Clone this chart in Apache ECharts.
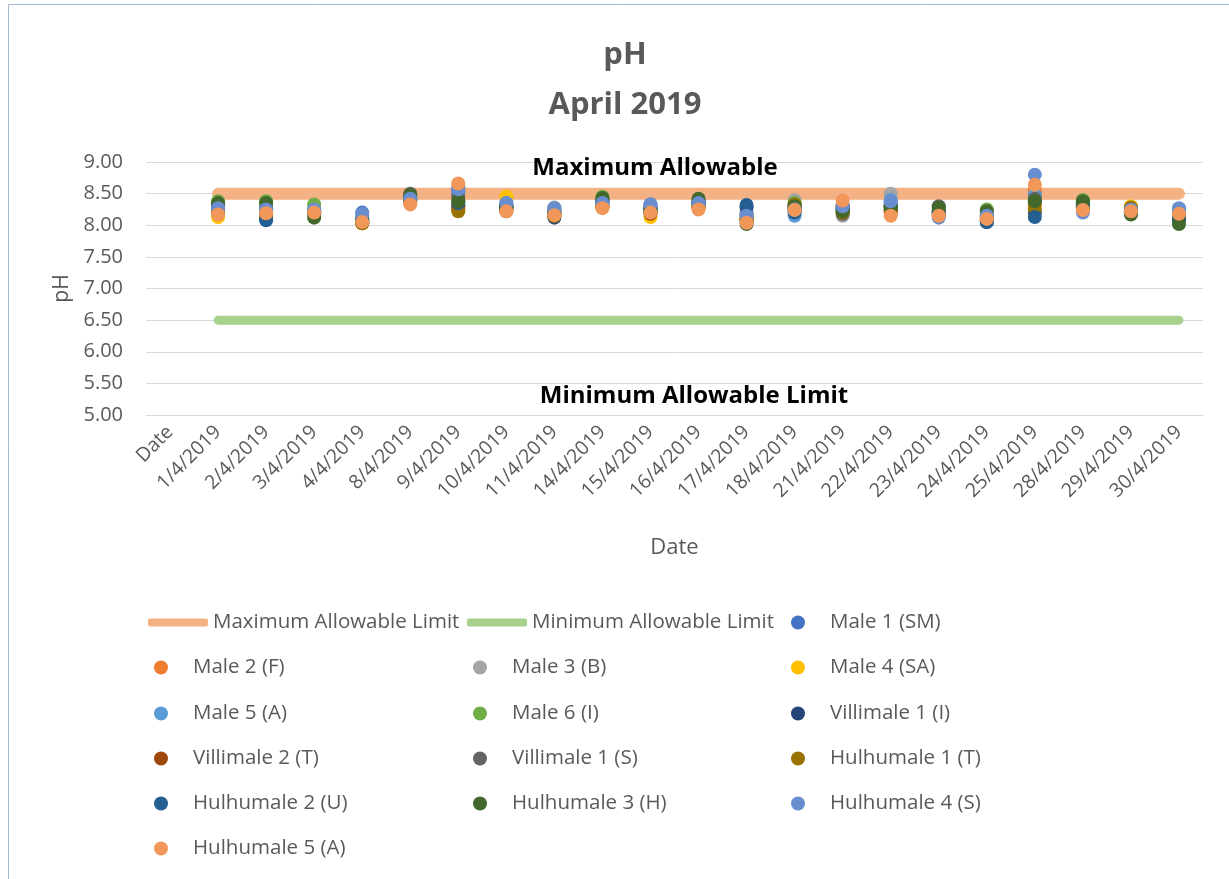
<!DOCTYPE html>
<html>
<head>
<meta charset="utf-8">
<title>pH April 2019</title>
<script src="https://cdn.jsdelivr.net/npm/echarts@6/dist/echarts.min.js"></script>
<style>
  html, body { margin: 0; padding: 0; background: #fff; }
  #chart { width: 1229px; height: 879px; }
</style>
</head>
<body>
<div id="chart"></div>
<script>
// categories on the x axis (first one is the empty "Date" slot)
var dates = ['Date', '1/4/2019', '2/4/2019', '3/4/2019', '4/4/2019', '8/4/2019', '9/4/2019', '10/4/2019',
  '11/4/2019', '14/4/2019', '15/4/2019', '16/4/2019', '17/4/2019', '18/4/2019', '21/4/2019',
  '22/4/2019', '23/4/2019', '24/4/2019', '25/4/2019', '28/4/2019', '29/4/2019', '30/4/2019']

var yTicks = [5.0, 5.5, 6.0, 6.5, 7.0, 7.5, 8.0, 8.5, 9.0]

// limits (one value per date)
var maxLimit = [null, 8.5, 8.5, 8.5, 8.5, 8.5, 8.5, 8.5, 8.5, 8.5, 8.5, 8.5, 8.5, 8.5, 8.5, 8.5, 8.5, 8.5, 8.5, 8.5, 8.5, 8.5]
var minLimit = [null, 6.5, 6.5, 6.5, 6.5, 6.5, 6.5, 6.5, 6.5, 6.5, 6.5, 6.5, 6.5, 6.5, 6.5, 6.5, 6.5, 6.5, 6.5, 6.5, 6.5, 6.5]

// sampling sites
var male1SM = [null, 8.30, 8.25, 8.25, 8.20, 8.40, 8.55, 8.30, 8.25, 8.35, 8.33, 8.35, 8.20, 8.22, 8.25, 8.35, 8.15, 8.15, 8.50, 8.30, 8.25, 8.25]
var male2F = [null, 8.20, 8.20, 8.20, 8.08, 8.35, 8.60, 8.25, 8.18, 8.30, 8.20, 8.28, 8.10, 8.25, 8.30, 8.20, 8.18, 8.10, 8.55, 8.28, 8.22, 8.15]
var male3B = [null, 8.25, 8.22, 8.22, 8.10, 8.45, 8.50, 8.28, 8.28, 8.38, 8.25, 8.32, 8.18, 8.40, 8.15, 8.50, 8.22, 8.18, 8.45, 8.35, 8.28, 8.20]
var male4SA = [null, 8.13, 8.18, 8.20, 8.06, 8.38, 8.30, 8.45, 8.15, 8.30, 8.13, 8.30, 8.12, 8.30, 8.28, 8.28, 8.20, 8.12, 8.30, 8.30, 8.30, 8.18]
var male5A = [null, 8.22, 8.20, 8.22, 8.12, 8.40, 8.52, 8.35, 8.20, 8.35, 8.30, 8.33, 8.15, 8.15, 8.22, 8.40, 8.18, 8.15, 8.48, 8.38, 8.25, 8.22]
var male6I = [null, 8.38, 8.38, 8.33, 8.08, 8.42, 8.40, 8.28, 8.18, 8.45, 8.22, 8.40, 8.05, 8.35, 8.20, 8.30, 8.25, 8.25, 8.40, 8.40, 8.20, 8.08]
var villimale1I = [null, 8.28, 8.10, 8.18, 8.05, 8.45, 8.30, 8.25, 8.12, 8.40, 8.25, 8.35, 8.28, 8.28, 8.25, 8.25, 8.20, 8.05, 8.20, 8.35, 8.18, 8.10]
var villimale2T = [null, 8.20, 8.15, 8.18, 8.03, 8.40, 8.25, 8.22, 8.15, 8.28, 8.18, 8.28, 8.08, 8.26, 8.30, 8.22, 8.15, 8.08, 8.35, 8.25, 8.20, 8.12]
var villimale1S = [null, 8.32, 8.28, 8.22, 8.06, 8.50, 8.45, 8.30, 8.22, 8.40, 8.28, 8.38, 8.15, 8.32, 8.18, 8.30, 8.30, 8.15, 8.42, 8.30, 8.22, 8.15]
var hulhumale1T = [null, 8.25, 8.12, 8.20, 8.03, 8.40, 8.22, 8.25, 8.15, 8.30, 8.20, 8.32, 8.10, 8.33, 8.20, 8.25, 8.20, 8.12, 8.25, 8.28, 8.28, 8.12]
var hulhumale2U = [null, 8.30, 8.08, 8.20, 8.08, 8.45, 8.35, 8.28, 8.20, 8.38, 8.25, 8.36, 8.32, 8.20, 8.27, 8.30, 8.22, 8.05, 8.13, 8.33, 8.22, 8.10]
var hulhumale3H = [null, 8.35, 8.35, 8.12, 8.05, 8.48, 8.38, 8.30, 8.18, 8.43, 8.22, 8.42, 8.02, 8.30, 8.22, 8.28, 8.28, 8.22, 8.38, 8.38, 8.17, 8.02]
var hulhumale4S = [null, 8.27, 8.25, 8.25, 8.18, 8.42, 8.57, 8.35, 8.27, 8.35, 8.33, 8.35, 8.15, 8.25, 8.30, 8.38, 8.12, 8.15, 8.80, 8.20, 8.25, 8.27]
var hulhumale5A = [null, 8.17, 8.19, 8.20, 8.05, 8.33, 8.66, 8.22, 8.16, 8.27, 8.20, 8.25, 8.04, 8.24, 8.39, 8.15, 8.15, 8.10, 8.64, 8.24, 8.22, 8.18]

var sites = [
  { name: 'Male 1 (SM)', data: male1SM, color: '#4472C4' },
  { name: 'Male 2 (F)', data: male2F, color: '#ED7D31' },
  { name: 'Male 3 (B)', data: male3B, color: '#A5A5A5' },
  { name: 'Male 4 (SA)', data: male4SA, color: '#FFC000' },
  { name: 'Male 5 (A)', data: male5A, color: '#5B9BD5' },
  { name: 'Male 6 (I)', data: male6I, color: '#70AD47' },
  { name: 'Villimale 1 (I)', data: villimale1I, color: '#264478' },
  { name: 'Villimale 2 (T)', data: villimale2T, color: '#9E480E' },
  { name: 'Villimale 1 (S)', data: villimale1S, color: '#636363' },
  { name: 'Hulhumale 1 (T)', data: hulhumale1T, color: '#997300' },
  { name: 'Hulhumale 2 (U)', data: hulhumale2U, color: '#255E91' },
  { name: 'Hulhumale 3 (H)', data: hulhumale3H, color: '#43682B' },
  { name: 'Hulhumale 4 (S)', data: hulhumale4S, color: '#698ED0' },
  { name: 'Hulhumale 5 (A)', data: hulhumale5A, color: '#F1975A' }
]

var FONT = '"Open Sans"'
var GREY = '#595959'

var chart = echarts.init(document.getElementById('chart'))

var series = [
  {
    name: 'Maximum Allowable Limit',
    type: 'line',
    data: maxLimit,
    showSymbol: false,
    z: 1,
    itemStyle: { color: '#F4B183' },
    lineStyle: { color: '#F4B183', width: 12, cap: 'round' },
    silent: true
  },
  {
    name: 'Minimum Allowable Limit',
    type: 'line',
    data: minLimit,
    showSymbol: false,
    z: 1,
    itemStyle: { color: '#A9D18E' },
    lineStyle: { color: '#A9D18E', width: 9, cap: 'round' },
    silent: true
  }
]
sites.forEach(function (s) {
  series.push({
    name: s.name,
    type: 'scatter',
    data: s.data,
    symbolSize: 14,
    z: 2,
    itemStyle: { color: s.color, opacity: 1 }
  })
})

// legend laid out as in the original: 3 columns, rows 45px apart
var legendNames = ['Maximum Allowable Limit', 'Minimum Allowable Limit'].concat(sites.map(function (s) { return s.name }))
var colX = [208, 527, 845]
var rowY = [621, 666, 712, 757, 802, 847]
var legends = legendNames.map(function (name, i) {
  var col = i % 3
  var row = Math.floor(i / 3)
  var isLine = i < 2
  return {
    show: true,
    data: [{ name: name, icon: isLine ? 'roundRect' : 'circle' }],
    left: isLine ? colX[col] - 65 : colX[col] - 59,
    top: rowY[row] - 14,
    itemWidth: isLine ? 60 : 54,
    itemHeight: isLine ? 8 : 14,
    selectedMode: false,
    textStyle: { color: GREY, fontSize: 20.5, fontFamily: FONT }
  }
})

chart.setOption({
  backgroundColor: '#fff',
  animation: false,
  title: {
    text: 'pH\nApril 2019',
    left: 620,
    textAlign: 'center',
    top: 25,
    textStyle: { color: GREY, fontSize: 31, fontWeight: 'bold', fontFamily: FONT, lineHeight: 50 }
  },
  grid: {
    left: 146,
    right: 26,
    top: 162,
    bottom: 464
  },
  legend: legends,
  xAxis: {
    type: 'category',
    data: dates,
    boundaryGap: true,
    name: 'Date',
    nameLocation: 'middle',
    nameGap: 122,
    nameTextStyle: { color: GREY, fontSize: 22, fontFamily: FONT },
    axisTick: { show: false },
    axisLine: { lineStyle: { color: '#D9D9D9' } },
    axisLabel: {
      rotate: 45,
      interval: 0,
      color: GREY,
      fontSize: 19.5,
      fontFamily: FONT,
      margin: 14
    }
  },
  yAxis: {
    type: 'value',
    min: yTicks[0],
    max: yTicks[yTicks.length - 1],
    interval: 0.5,
    name: 'pH',
    nameLocation: 'middle',
    nameGap: 73,
    nameTextStyle: { color: GREY, fontSize: 21, fontFamily: FONT },
    axisLine: { show: false },
    axisTick: { show: false },
    splitLine: { lineStyle: { color: '#D9D9D9', width: 1 } },
    axisLabel: {
      color: GREY,
      fontSize: 20,
      fontFamily: FONT,
      margin: 23,
      formatter: function (v) { return v.toFixed(2) }
    }
  },
  graphic: [
    {
      // chart frame, cut off at the right and bottom like the original
      type: 'rect',
      z: 0,
      silent: true,
      shape: { x: 8.5, y: 4.5, width: 1240, height: 900 },
      style: { fill: 'none', stroke: '#A7B7D6', lineWidth: 1 }
    },
    {
      type: 'text',
      z: 100,
      x: 655, y: 168,
      style: { text: 'Maximum Allowable', align: 'center', verticalAlign: 'middle', fill: '#000', font: 'bold 24px ' + FONT }
    },
    {
      type: 'text',
      z: 100,
      x: 694, y: 396,
      style: { text: 'Minimum Allowable Limit', align: 'center', verticalAlign: 'middle', fill: '#000', font: 'bold 24px ' + FONT }
    }
  ],
  series: series
})
</script>
</body>
</html>
